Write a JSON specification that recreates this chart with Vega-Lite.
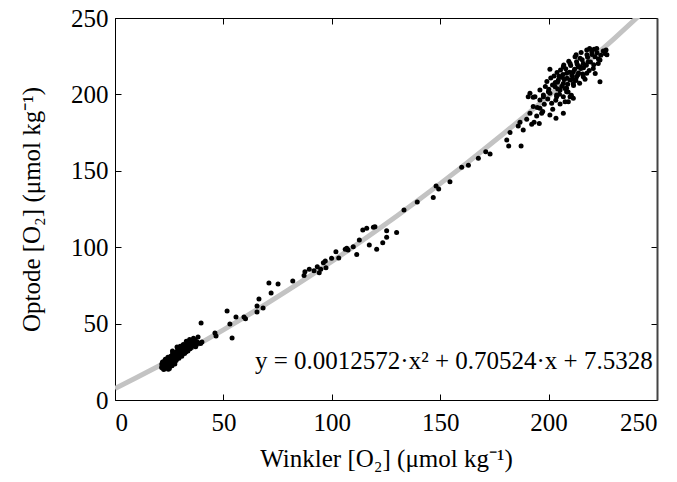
{
  "$schema": "https://vega.github.io/schema/vega-lite/v6.json",
  "width": 542,
  "height": 382,
  "autosize": {"type": "none"},
  "padding": {"left": 115, "top": 18, "right": 20, "bottom": 82},
  "background": "white",
  "config": {
    "view": {"stroke": null},
    "font": "Liberation Serif",
    "text": {"font": "Liberation Serif"},
    "axis": {
      "labelFont": "Liberation Serif",
      "titleFont": "Liberation Serif",
      "labelFontSize": 25,
      "titleFontSize": 25,
      "labelColor": "#000",
      "titleColor": "#000",
      "titleFontWeight": "normal",
      "domainColor": "#000",
      "tickColor": "#000",
      "grid": false
    }
  },
  "datasets": {
    "fit": [
      {"w": 0, "o": 7.533}, {"w": 10, "o": 14.711}, {"w": 20, "o": 22.141}, {"w": 30, "o": 29.822},
      {"w": 40, "o": 37.754}, {"w": 50, "o": 45.938}, {"w": 60, "o": 54.373}, {"w": 70, "o": 63.06},
      {"w": 80, "o": 71.998}, {"w": 90, "o": 81.188}, {"w": 100, "o": 90.629}, {"w": 110, "o": 100.321},
      {"w": 120, "o": 110.266}, {"w": 130, "o": 120.461}, {"w": 140, "o": 130.908}, {"w": 150, "o": 141.606},
      {"w": 160, "o": 152.555}, {"w": 170, "o": 163.757}, {"w": 180, "o": 175.209}, {"w": 190, "o": 186.914},
      {"w": 200, "o": 198.869}, {"w": 210, "o": 211.075}, {"w": 220, "o": 223.534}, {"w": 230, "o": 236.244},
      {"w": 240, "o": 249.206}, {"w": 250, "o": 262.418}
    ],
    "pts": [
      {"w":21.5,"o":21.2},{"w":21.8,"o":22.5},{"w":22.0,"o":20.8},{"w":22.2,"o":23.4},{"w":22.4,"o":21.9},
      {"w":22.6,"o":24.1},{"w":22.8,"o":22.6},{"w":23.0,"o":21.5},{"w":23.1,"o":23.8},{"w":23.3,"o":25.0},
      {"w":23.5,"o":22.3},{"w":23.6,"o":20.9},{"w":23.8,"o":24.6},{"w":24.0,"o":23.2},{"w":24.1,"o":26.1},
      {"w":24.3,"o":22.0},{"w":24.5,"o":25.3},{"w":24.7,"o":23.7},{"w":24.9,"o":21.8},{"w":25.0,"o":27.2},
      {"w":25.2,"o":24.4},{"w":25.4,"o":26.0},{"w":25.6,"o":22.9},{"w":25.8,"o":25.1},{"w":26.0,"o":28.3},
      {"w":26.2,"o":24.0},{"w":26.4,"o":26.8},{"w":26.6,"o":30.6},{"w":26.8,"o":25.5},{"w":27.0,"o":27.7},
      {"w":27.3,"o":24.7},{"w":27.5,"o":29.1},{"w":27.8,"o":26.5},{"w":28.0,"o":31.2},{"w":28.3,"o":28.4},
      {"w":28.5,"o":27.0},{"w":28.8,"o":30.1},{"w":29.0,"o":32.8},{"w":29.3,"o":28.9},{"w":29.6,"o":31.0},
      {"w":30.0,"o":29.6},{"w":30.3,"o":33.5},{"w":30.6,"o":31.7},{"w":31.0,"o":30.2},{"w":31.3,"o":34.4},
      {"w":31.6,"o":32.3},{"w":32.0,"o":35.6},{"w":32.3,"o":33.0},{"w":32.7,"o":31.4},{"w":33.0,"o":36.2},
      {"w":33.4,"o":34.1},{"w":33.8,"o":37.0},{"w":34.2,"o":35.2},{"w":34.6,"o":33.6},{"w":35.0,"o":36.8},
      {"w":35.5,"o":38.1},{"w":36.0,"o":35.7},{"w":36.5,"o":37.4},{"w":37.0,"o":39.2},{"w":37.5,"o":36.3},
      {"w":38.0,"o":38.0},{"w":38.6,"o":37.2},{"w":39.5,"o":37.0},{"w":40.1,"o":38.0},{"w":39.7,"o":50.4},
      {"w":21.9,"o":24.8},{"w":22.5,"o":19.9},{"w":23.2,"o":26.7},{"w":23.9,"o":21.2},{"w":24.4,"o":27.9},
      {"w":25.1,"o":20.6},{"w":25.7,"o":28.6},{"w":26.3,"o":22.4},{"w":26.9,"o":29.8},{"w":27.6,"o":23.6},
      {"w":28.2,"o":25.9},{"w":28.9,"o":33.9},{"w":29.5,"o":27.3},{"w":30.1,"o":35.2},{"w":30.8,"o":28.7},
      {"w":31.5,"o":36.3},{"w":32.1,"o":30.5},{"w":32.9,"o":38.5},{"w":33.6,"o":32.0},{"w":34.4,"o":39.6},
      {"w":35.2,"o":34.3},{"w":36.2,"o":40.4},{"w":37.2,"o":34.9},{"w":38.3,"o":41.3},{"w":21.6,"o":23.6},
      {"w":22.9,"o":25.6},{"w":24.6,"o":20.2},{"w":26.5,"o":32.1},{"w":28.6,"o":34.7},
      {"w":46.1,"o":43.8},{"w":46.6,"o":41.9},{"w":51.7,"o":58.2},{"w":53.0,"o":49.7},{"w":54.0,"o":40.6},
      {"w":55.8,"o":54.3},{"w":59.5,"o":54.3},{"w":60.2,"o":53.2},
      {"w":65.5,"o":61.5},{"w":65.5,"o":57.6},{"w":68.3,"o":60.2},{"w":66.4,"o":66.1},{"w":72.0,"o":70.0},
      {"w":71.0,"o":76.6},{"w":75.2,"o":75.9},{"w":82.0,"o":77.9},{"w":87.2,"o":81.4},{"w":87.6,"o":84.0},
      {"w":89.6,"o":85.5},{"w":91.8,"o":84.6},{"w":93.3,"o":87.2},{"w":94.2,"o":83.3},{"w":94.9,"o":85.5},
      {"w":96.1,"o":89.9},{"w":97.0,"o":91.0},{"w":97.3,"o":86.6},{"w":99.9,"o":92.7},{"w":101.9,"o":97.1},
      {"w":103.2,"o":92.9},{"w":106.2,"o":98.6},{"w":106.9,"o":99.3},{"w":107.5,"o":98.2},{"w":109.9,"o":100.3},
      {"w":111.5,"o":95.3},{"w":112.7,"o":104.7},{"w":114.3,"o":111.3},{"w":116.1,"o":112.4},{"w":119.2,"o":113.0},
      {"w":119.9,"o":113.4},{"w":117.3,"o":101.4},{"w":120.7,"o":98.6},{"w":123.5,"o":102.9},{"w":125.3,"o":106.5},
      {"w":125.3,"o":110.8},{"w":129.9,"o":109.7},
      {"w":133.3,"o":124.3},{"w":139.4,"o":129.6},{"w":146.8,"o":132.6},{"w":148.1,"o":140.0},{"w":149.3,"o":138.1},
      {"w":154.5,"o":142.9},{"w":159.9,"o":152.3},{"w":163.0,"o":153.6},{"w":167.6,"o":158.2},{"w":171.0,"o":162.5},
      {"w":173.0,"o":161.0},{"w":180.7,"o":170.2},{"w":181.6,"o":166.2},{"w":187.3,"o":166.2},
      {"w":182.2,"o":175.0},{"w":188.3,"o":176.7},{"w":186.0,"o":179.3},{"w":186.8,"o":181.7},{"w":189.9,"o":183.7},
      {"w":192.2,"o":180.4},{"w":193.3,"o":181.7},{"w":195.7,"o":181.0},{"w":191.4,"o":187.6},{"w":194.5,"o":185.9},
      {"w":196.8,"o":187.6},{"w":192.9,"o":192.0},{"w":196.0,"o":190.9},{"w":200.6,"o":186.5},{"w":203.4,"o":184.4},
      {"w":206.8,"o":187.6},{"w":190.6,"o":198.5},{"w":192.9,"o":198.1},{"w":196.0,"o":196.3},{"w":197.6,"o":199.6},
      {"w":199.9,"o":201.8},{"w":201.4,"o":194.2},{"w":203.7,"o":198.5},{"w":205.3,"o":193.7},{"w":207.6,"o":195.2},
      {"w":209.9,"o":198.5},{"w":208.3,"o":201.8},
      {"w":200.6,"o":216.4},{"w":223.7,"o":208.3},{"w":226.5,"o":229.0},{"w":226.0,"o":226.8},{"w":217.6,"o":229.0},
      {"w":219.9,"o":228.0},{"w":222.2,"o":230.1},{"w":221.4,"o":224.7},{"w":223.7,"o":222.5},{"w":222.9,"o":220.3},
      {"w":212.2,"o":224.7},{"w":214.5,"o":223.6},{"w":216.0,"o":220.3},{"w":218.3,"o":221.4},{"w":213.7,"o":218.1},
      {"w":211.4,"o":214.9},{"w":217.6,"o":213.8},{"w":220.6,"o":217.0},{"w":206.8,"o":218.1},{"w":208.3,"o":213.8},
      {"w":206.0,"o":211.6},{"w":204.5,"o":209.4},{"w":206.8,"o":207.2},{"w":209.9,"o":209.4},{"w":212.9,"o":211.6},
      {"w":216.0,"o":211.6},{"w":211.4,"o":207.2},{"w":203.0,"o":205.0},{"w":205.3,"o":202.9},{"w":208.3,"o":204.0},
      {"w":203.7,"o":199.6},{"w":206.8,"o":198.5},{"w":200.6,"o":200.7},{"w":197.6,"o":198.5},{"w":196.0,"o":202.9},
      {"w":193.7,"o":198.5},{"w":191.4,"o":200.7},{"w":209.1,"o":195.2},{"w":211.4,"o":197.4},{"w":214.5,"o":218.1},
      {"w":209.9,"o":220.3},{"w":212.9,"o":221.4},{"w":226.9,"o":226.0},{"w":217.7,"o":226.0},
      {"w":198.5,"o":205.1},{"w":199.2,"o":208.4},{"w":200.1,"o":203.3},{"w":201.0,"o":210.7},{"w":201.8,"o":206.2},
      {"w":202.5,"o":212.0},{"w":203.1,"o":207.8},{"w":203.9,"o":214.3},{"w":204.2,"o":203.6},{"w":204.8,"o":211.9},
      {"w":205.5,"o":216.0},{"w":206.1,"o":205.4},{"w":206.6,"o":213.1},{"w":207.2,"o":209.7},{"w":207.9,"o":216.8},
      {"w":208.5,"o":210.6},{"w":209.0,"o":201.5},{"w":209.6,"o":214.5},{"w":210.2,"o":218.9},{"w":210.8,"o":212.3},
      {"w":211.5,"o":205.8},{"w":212.0,"o":216.4},{"w":212.6,"o":209.1},{"w":213.2,"o":219.7},{"w":213.8,"o":214.0},
      {"w":214.3,"o":207.3},{"w":214.9,"o":216.9},{"w":215.5,"o":222.6},{"w":216.1,"o":217.5},{"w":216.8,"o":209.9},
      {"w":217.4,"o":219.0},{"w":218.0,"o":224.3},{"w":218.7,"o":215.6},{"w":219.3,"o":221.2},{"w":220.0,"o":226.1},
      {"w":220.8,"o":219.4},{"w":221.5,"o":213.7},{"w":222.3,"o":227.2},{"w":223.0,"o":223.1},{"w":224.1,"o":225.6},
      {"w":225.2,"o":228.4},{"w":203.3,"o":196.2},{"w":205.0,"o":200.1},{"w":207.6,"o":203.9},{"w":210.5,"o":199.4},
      {"w":198.0,"o":193.5},{"w":199.6,"o":197.0},{"w":194.8,"o":191.5},{"w":197.3,"o":188.8},{"w":201.9,"o":190.3},
      {"w":204.1,"o":208.0},{"w":206.3,"o":211.2},{"w":208.8,"o":206.7},{"w":211.1,"o":210.1},{"w":213.5,"o":212.9},
      {"w":215.7,"o":213.4},{"w":209.3,"o":221.7},{"w":207.0,"o":219.3},{"w":212.7,"o":226.0},{"w":215.0,"o":227.5},
      {"w":218.9,"o":230.0},{"w":221.0,"o":229.6}
    ],
    "eq": [{"label": "y = 0.0012572·x² + 0.70524·x + 7.5328", "w": 248, "o": 20}]
  },
  "layer": [
    {
      "data": {"name": "fit"},
      "mark": {"type": "line", "color": "#c3c3c3", "strokeWidth": 5, "clip": true},
      "encoding": {
        "x": {"field": "w", "type": "quantitative", "scale": {"domain": [0, 250], "nice": false},
              "axis": {"orient": "top", "title": null, "labels": false, "values": [0,50,100,150,200,250], "tickSize": -6, "domainWidth": 1}},
        "y": {"field": "o", "type": "quantitative", "scale": {"domain": [0, 250], "nice": false},
              "axis": {"orient": "right", "title": null, "labels": false, "values": [0,50,100,150,200,250], "tickSize": -6, "domainColor": "#444", "domainWidth": 2}}
      }
    },
    {
      "data": {"name": "pts"},
      "mark": {"type": "circle", "color": "#000", "opacity": 1, "size": 25},
      "encoding": {
        "x": {"field": "w", "type": "quantitative", "scale": {"domain": [0, 250], "nice": false},
              "axis": {"orient": "bottom", "title": "Winkler [O₂] (μmol kg⁻¹)", "values": [0,50,100,150,200,250], "tickSize": -6, "labelPadding": 16, "titlePadding": 11}},
        "y": {"field": "o", "type": "quantitative", "scale": {"domain": [0, 250], "nice": false},
              "axis": {"orient": "left", "title": "Optode [O₂] (μmol kg⁻¹)", "values": [0,50,100,150,200,250], "tickSize": -6, "labelPadding": 13, "titlePadding": 26}}
      }
    },
    {
      "data": {"name": "eq"},
      "mark": {"type": "text", "align": "right", "baseline": "alphabetic", "font": "Liberation Serif", "fontSize": 25, "color": "#000"},
      "encoding": {
        "x": {"field": "w", "type": "quantitative", "scale": {"domain": [0, 250], "nice": false}, "axis": null},
        "y": {"field": "o", "type": "quantitative", "scale": {"domain": [0, 250], "nice": false}, "axis": null},
        "text": {"field": "label"}
      }
    }
  ],
  "resolve": {"axis": {"x": "independent", "y": "independent"}}
}
